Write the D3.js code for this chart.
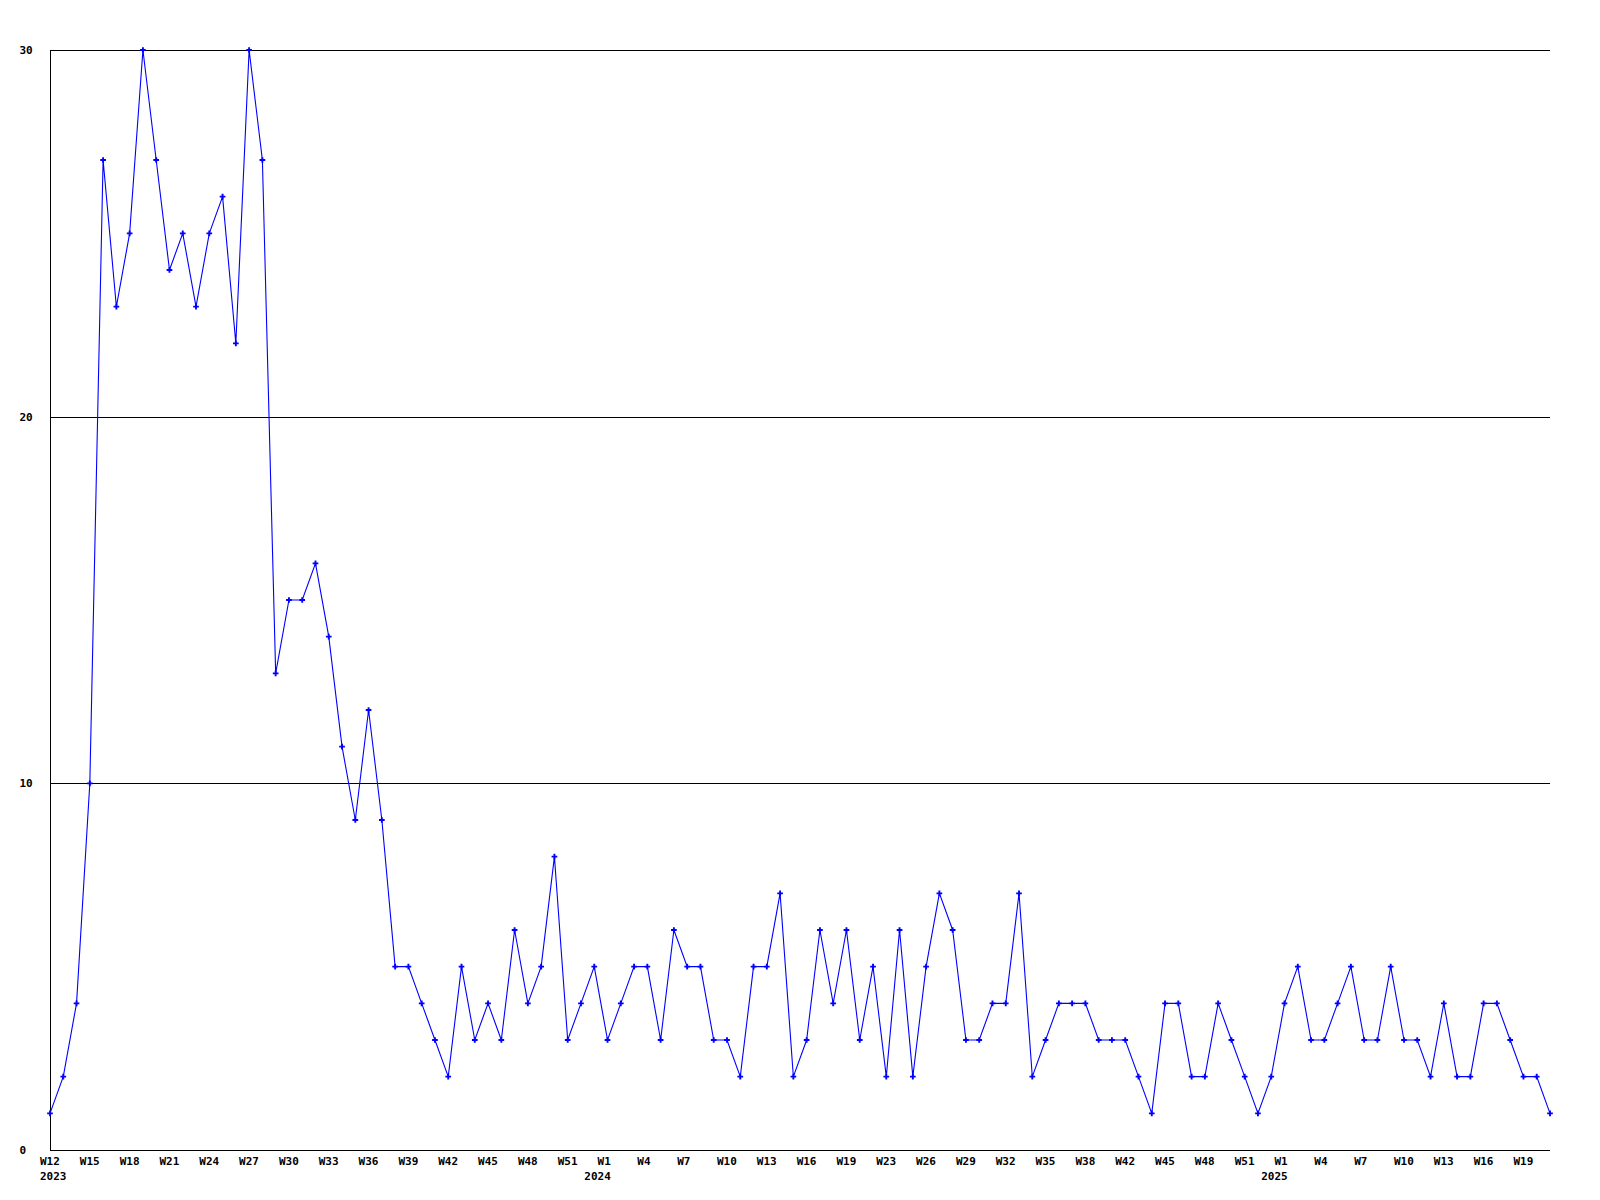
<!DOCTYPE html>
<html><head><meta charset="utf-8">
<script src="https://cdn.jsdelivr.net/npm/d3@7"></script>
<style>body{margin:0;background:#fff}svg{display:block}</style>
</head><body><svg id="c" width="1600" height="1200"></svg>
<script>
// weekly counts, 2023 W12 .. 2025 W21
const counts = [1,2,4,10,27,23,25,30,27,24,25,23,25,26,22,30,27,13,15,15,
  16,14,11,9,12,9,5,5,4,3,2,5,3,4,3,6,4,5,8,3,
  4,5,3,4,5,5,3,6,5,5,3,3,2,5,5,7,2,3,6,4,
  6,3,5,2,6,2,5,7,6,3,3,4,4,7,2,3,4,4,4,3,
  3,3,2,1,4,4,2,2,4,3,2,1,2,4,5,3,3,4,5,3,
  3,5,3,3,2,4,2,2,4,4,3,2,2,1];
// one label every 3rd point
const weekLabels = ["W12","W15","W18","W21","W24","W27","W30","W33","W36","W39","W42","W45","W48","W51",
  "W1","W4","W7","W10","W13","W16","W19","W23","W26","W29","W32","W35","W38","W42","W45","W48","W51",
  "W1","W4","W7","W10","W13","W16","W19"];
const labelStep = 3;
const yearLabels = ["2023","2024","2025"];
const yearLabelWeekIndex = [0,14,31];
const yTicks = [0,10,20,30];

const svg = d3.select("#c");
const x = d3.scaleLinear().domain([0, counts.length-1]).range([50, 1550]);
const y = d3.scaleLinear().domain([0,30]).range([1150, 50]);
const font = "'DejaVu Sans Mono', monospace";

// grid lines
svg.append("g").selectAll("line").data(yTicks.filter(d=>d>0)).join("line")
  .attr("x1",50).attr("x2",1550)
  .attr("y1",d=>Math.round(y(d))+0.5).attr("y2",d=>Math.round(y(d))+0.5)
  .attr("stroke","#000").attr("stroke-width",1).attr("shape-rendering","crispEdges");
// axes lines
svg.append("line").attr("x1",50.5).attr("x2",50.5).attr("y1",y(30)).attr("y2",y(0)+0.5)
  .attr("stroke","#000").attr("shape-rendering","crispEdges");
svg.append("line").attr("x1",50).attr("x2",1550).attr("y1",y(0)+0.5).attr("y2",y(0)+0.5)
  .attr("stroke","#000").attr("shape-rendering","crispEdges");

// y labels
svg.append("g").selectAll("text").data(yTicks).join("text")
  .attr("x",19.5).attr("y",d=>y(d)+4)
  .attr("font-family",font).attr("font-weight","bold").attr("font-size",11)
  .text(d=>d);

// x labels
svg.append("g").selectAll("text").data(weekLabels).join("text")
  .attr("x",(d,i)=>x(i*labelStep)-10).attr("y",1165).attr("text-anchor","start")
  .attr("font-family",font).attr("font-weight","bold").attr("font-size",11)
  .text(d=>d);
svg.append("g").selectAll("text").data(yearLabels).join("text")
  .attr("x",(d,i)=>yearLabelWeekIndex[i]===0 ? x(0)-10 : x(yearLabelWeekIndex[i]*labelStep)-10)
  .attr("text-anchor",(d,i)=>yearLabelWeekIndex[i]===0 ? "start" : "middle")
  .attr("y",1180)
  .attr("font-family",font).attr("font-weight","bold").attr("font-size",11)
  .text(d=>d);

// line
svg.append("path").datum(counts)
  .attr("d", d3.line().x((d,i)=>x(i)).y(d=>y(d)))
  .attr("fill","none").attr("stroke","#0000ff").attr("stroke-width",1.1);
// markers
svg.append("g").selectAll("path").data(counts).join("path")
  .attr("transform",(d,i)=>`translate(${x(i)},${y(d)})`)
  .attr("d", d3.symbol(d3.symbolCross, 18))
  .attr("fill","#0000ff");
</script></body></html>
